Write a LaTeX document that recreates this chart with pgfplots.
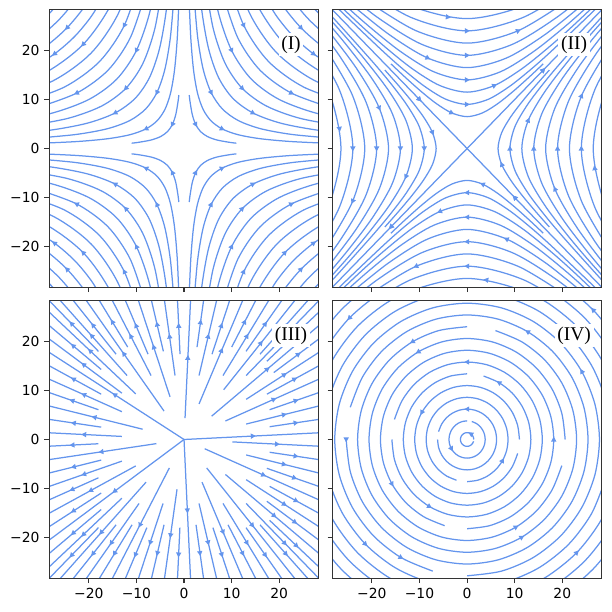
\documentclass[border=0pt]{standalone}
\usepackage{fontspec}
\setmainfont{DejaVu Sans}
\newfontfamily\labfont{Liberation Serif}
\usepackage{pgfplots}
\usepackage{pgfplotstable}
\pgfplotsset{compat=1.18}
\usetikzlibrary{arrows.meta}
\definecolor{cb}{HTML}{6495ED}

% (I): hyperbolas xy=c, first quadrant, mirrored to the others
\pgfplotstableread{
x y
1.1 10.91
1.225 9.798
1.732 6.928
2.449 4.899
3.464 3.464
4.899 2.449
6.928 1.732
9.798 1.225
11 1.091
}\tIa
\pgfplotstableread{
x y
1.0 32
1.414 22.627
2 16
2.828 11.314
4 8
5.657 5.657
8 4
11.314 2.828
16 2
22.627 1.414
32 1
}\tIb
\pgfplotstableread{
x y
2.016 32.249
2.851 22.804
4.031 16.125
5.701 11.402
8.062 8.062
11.402 5.701
16.125 4.031
22.804 2.851
32.249 2.016
}\tIc
\pgfplotstableread{
x y
2.562 40.988
3.623 28.983
5.123 20.494
7.246 14.491
10.247 10.247
14.491 7.246
20.494 5.123
28.983 3.623
40.988 2.562
}\tId
\pgfplotstableread{
x y
4.330 34.641
6.124 24.495
8.660 17.321
12.247 12.247
17.321 8.660
24.495 6.124
34.641 4.330
}\tIe
\pgfplotstableread{
x y
5 40
7.071 28.284
10 20
14.142 14.142
20 10
28.284 7.071
40 5
}\tIf
\pgfplotstableread{
x y
7.984 31.938
11.292 22.583
15.969 15.969
22.583 11.292
31.938 7.984
}\tIg
\pgfplotstableread{
x y
8.874 35.496
12.550 25.100
17.748 17.748
25.100 12.550
35.496 8.874
}\tIh
\pgfplotstableread{
x y
9.747 38.987
13.784 27.568
19.494 19.494
27.568 13.784
38.987 9.747
}\tIi
\pgfplotstableread{
x y
10.607 42.426
15 30
21.213 21.213
30 15
42.426 10.607
}\tIj
\pgfplotstableread{
x y
16.202 32.404
19.270 27.245
22.913 22.913
27.245 19.270
32.404 16.202
}\tIk
\pgfplotstableread{
x y
17.393 34.785
20.686 29.247
24.597 24.597
29.247 20.686
34.785 17.393
}\tIl
\pgfplotstableread{
x y
18.574 37.148
22.092 31.233
26.268 26.268
31.233 22.092
37.148 18.574
}\tIm
\pgfplotstableread{
x y
19.748 39.496
23.488 33.207
27.928 27.928
33.207 23.488
39.496 19.748
}\tIn
\pgfplotstableread{
x y u v
2.449 4.899 0.27 -0.54
8 4 0.54 -0.27
5.701 11.402 0.27 -0.54
14.491 7.246 0.54 -0.27
12.247 12.247 0.42 -0.42
10 20 0.27 -0.54
22.583 11.292 0.54 -0.27
12.55 25.1 0.27 -0.54
21.213 21.213 0.42 -0.42
27.245 19.27 0.49 -0.35
24.597 24.597 0.42 -0.42
}\aI

% (II): upper family y^2-x^2=a^2, turned to the other three sides
\pgfplotstableread{
x y
-16 17.270
-13 14.534
-9.75 11.718
-6.5 9.192
-3.25 7.267
0 6.5
3.25 7.267
6.5 9.192
9.75 11.718
13 14.534
16 17.270
}\tIIb
\pgfplotstableread{
x y
-36 37.108
-27 28.461
-18 20.125
-13.5 16.225
-9 12.728
-4.5 10.062
0 9
4.5 10.062
9 12.728
13.5 16.225
18 20.125
27 28.461
36 37.108
}\tIIc
\pgfplotstableread{
x y
-34.5 36.366
-23 25.715
-17.25 20.732
-11.5 16.263
-5.75 12.857
0 11.5
5.75 12.857
11.5 16.263
17.25 20.732
23 25.715
34.5 36.366
}\tIId
\pgfplotstableread{
x y
-28 31.305
-21 25.239
-14 19.799
-7 15.652
0 14
7 15.652
14 19.799
21 25.239
28 31.305
}\tIIe
\pgfplotstableread{
x y
-24.75 29.747
-16.5 23.335
-8.25 18.448
0 16.5
8.25 18.448
16.5 23.335
24.75 29.747
}\tIIf
\pgfplotstableread{
x y
-28.5 34.254
-19 26.870
-9.5 21.243
0 19
9.5 21.243
19 26.870
28.5 34.254
}\tIIg
\pgfplotstableread{
x y
-21.5 30.406
-10.75 24.038
0 21.5
10.75 24.038
21.5 30.406
}\tIIh
\pgfplotstableread{
x y
-24 33.941
-12 26.833
0 24
12 26.833
24 33.941
}\tIIi
\pgfplotstableread{
x y
-26.5 37.477
-13.25 29.628
0 26.5
13.25 29.628
26.5 37.477
}\tIIj
\pgfplotstableread{
x y u v
-3.25 7.267 0.55 -0.245
0 9 0.6 0
5.75 12.857 0.55 0.245
0 14 0.6 0
-8.25 18.448 0.55 -0.245
0 19 0.6 0
10.75 24.038 0.55 0.245
0 24 0.6 0
-4 26.8 0.59 -0.09
16 16 0.42 0.42
-10 10 0.42 -0.42
}\aII

% (III): rays, start point and end point
\pgfplotstableread{
x y ex ey
0 0 29 1.4
17.98 2.604 29 4.2
13.05 3.15 29 7
17.98 6.076 29 9.8
8.7 3.78 29 12.6
17.4 9.24 29 15.4
13.05 8.19 29 18.2
18.85 13.65 29 21
5.8 4.76 29 23.8
17.4 15.96 29 26.6
13.05 13.05 29 29
15.96 17.4 26.6 29
8.33 10.15 23.8 29
13.02 17.98 21 29
8.19 13.05 18.2 29
10.01 18.85 15.4 29
3.15 7.25 12.6 29
5.88 17.4 9.8 29
3.15 13.05 7 29
2.73 18.85 4.2 29
0.21 4.35 1.4 29
-0.84 17.4 -1.4 29
-1.89 13.05 -4.2 29
-4.34 17.98 -7 29
-2.94 8.7 -9.8 29
-7.56 17.4 -12.6 29
-6.93 13.05 -15.4 29
-11.83 18.85 -18.2 29
-4.2 5.8 -21 29
-14.28 17.4 -23.8 29
-11.97 13.05 -26.6 29
-17.98 17.98 -29 29
-10.15 9.31 -29 26.6
-17.4 14.28 -29 23.8
-13.05 9.45 -29 21
0 0 -29 18.2
-17.4 9.24 -29 15.4
-13.05 5.67 -29 12.6
-17.98 6.076 -29 9.8
-8.7 2.1 -29 7
-17.4 2.52 -29 4.2
-13.05 0.63 -29 1.4
-17.98 -0.868 -29 -1.4
-5.8 -0.84 -29 -4.2
-17.4 -4.2 -29 -7
-13.05 -4.41 -29 -9.8
-17.98 -7.812 -29 -12.6
-10.15 -5.39 -29 -15.4
-17.4 -10.92 -29 -18.2
0 0 -29 -21
-17.4 -14.28 -29 -23.8
-13.05 -11.97 -29 -26.6
-17.98 -17.98 -29 -29
-7.98 -8.7 -26.6 -29
-14.28 -17.4 -23.8 -29
-9.45 -13.05 -21 -29
-10.92 -17.4 -18.2 -29
-3.08 -5.8 -15.4 -29
-7.812 -17.98 -12.6 -29
-4.41 -13.05 -9.8 -29
-4.2 -17.4 -7 -29
-1.47 -10.15 -4.2 -29
-0.868 -17.98 -1.4 -29
0 0 1.4 -29
2.52 -17.4 4.2 -29
3.15 -13.05 7 -29
6.076 -17.98 9.8 -29
3.78 -8.7 12.6 -29
9.24 -17.4 15.4 -29
8.19 -13.05 18.2 -29
13.02 -17.98 21 -29
4.76 -5.8 23.8 -29
15.96 -17.4 26.6 -29
13.05 -13.05 29 -29
17.98 -16.492 29 -26.6
8.7 -7.14 29 -23.8
17.4 -12.6 29 -21
13.05 -8.19 29 -18.2
17.98 -9.548 29 -15.4
4.35 -1.89 29 -12.6
17.4 -5.88 29 -9.8
13.05 -3.15 29 -7
17.98 -2.604 29 -4.2
10.15 -0.49 29 -1.4
}\tIII

% (IV): arrows on the circles
\pgfplotstableread{
x y u v
0.7 1.212 -0.43 0.25
-3.291 -1.9 0.3 -0.52
0 6.2 -0.6 0
7.448 -4.3 0.3 0.52
-9.526 5.5 -0.3 -0.52
6.7 11.604 -0.52 0.3
-7.9 -13.683 0.52 -0.3
18.2 0 0 0.6
-10.3 17.84 -0.52 -0.3
11.5 -19.918 0.52 0.3
-25.4 0 0 -0.6
24.075 13.9 -0.3 0.52
-21.354 -21.354 0.42 -0.42
23.052 -23.052 0.42 0.42
-24.749 24.749 -0.42 -0.42
26.446 26.446 -0.42 0.42
10.3 -17.84 0.52 0.3
12.7 21.996 -0.52 0.3
-11.5 19.918 -0.52 -0.3
-13.9 -24.075 0.52 -0.3
-15.761 -9.1 0.3 -0.52
0 15.8 -0.6 0
}\aIV

\pgfplotsset{
  sp/.style={scale only axis, width=194pt, height=199.8pt, anchor=south west,
    xmin=-28.3, xmax=28.3, ymin=-28.3, ymax=28.3,
    xtick={-20,-10,0,10,20}, ytick={-20,-10,0,10,20},
    xticklabels={−20,−10,0,10,20}, yticklabels={−20,−10,0,10,20},
    tick pos=left, tick align=outside, major tick length=3.5pt,
    axis line style={black!80, line width=0.8pt},
    tick style={black!80, line width=0.8pt},
    ticklabel style={font=\fontsize{10}{12}\selectfont},
    axis on top},
  sl/.style={cb, line width=0.9pt, smooth},
  st/.style={cb, line width=0.9pt},
  ar/.style={cb, line width=0.9pt, -{Triangle[length=3.6pt,width=3.6pt]}},
}
\tikzset{lab/.style={fill=white, inner sep=2pt, font=\labfont\fontsize{14}{16}\selectfont}}

\newcommand\quadI[1]{%
  \addplot[sl] table {#1};
  \addplot[sl] table[x expr=-\thisrow{x}, y=y] {#1};
  \addplot[sl] table[x=x, y expr=-\thisrow{y}] {#1};
  \addplot[sl] table[x expr=-\thisrow{x}, y expr=-\thisrow{y}] {#1};
}
\newcommand\quadII[1]{%
  \addplot[sl] table {#1};
  \addplot[sl] table[x expr=-\thisrow{x}, y expr=-\thisrow{y}] {#1};
  \addplot[sl] table[x=y, y=x] {#1};
  \addplot[sl] table[x expr=-\thisrow{y}, y expr=-\thisrow{x}] {#1};
}
% circle of radius #1 through points 15 degrees apart, with a 15 degree gap
% #2=0.966r #3=0.866r #4=0.707r #5=0.5r #6=0.259r
\newcommand\circE[6]{\addplot[sl] coordinates {
 (#1,0)(#2,#6)(#3,#5)(#4,#4)(#5,#3)(#6,#2)
 (0,#1)(-#6,#2)(-#5,#3)(-#4,#4)(-#3,#5)(-#2,#6)
 (-#1,0)(-#2,-#6)(-#3,-#5)(-#4,-#4)(-#5,-#3)(-#6,-#2)
 (0,-#1)(#6,-#2)(#5,-#3)(#4,-#4)(#3,-#5)(#2,-#6)};}
\newcommand\circN[6]{\addplot[sl] coordinates {
 (0,#1)(-#6,#2)(-#5,#3)(-#4,#4)(-#3,#5)(-#2,#6)
 (-#1,0)(-#2,-#6)(-#3,-#5)(-#4,-#4)(-#5,-#3)(-#6,-#2)
 (0,-#1)(#6,-#2)(#5,-#3)(#4,-#4)(#3,-#5)(#2,-#6)
 (#1,0)(#2,#6)(#3,#5)(#4,#4)(#5,#3)(#6,#2)};}
\newcommand\circW[6]{\addplot[sl] coordinates {
 (-#1,0)(-#2,-#6)(-#3,-#5)(-#4,-#4)(-#5,-#3)(-#6,-#2)
 (0,-#1)(#6,-#2)(#5,-#3)(#4,-#4)(#3,-#5)(#2,-#6)
 (#1,0)(#2,#6)(#3,#5)(#4,#4)(#5,#3)(#6,#2)
 (0,#1)(-#6,#2)(-#5,#3)(-#4,#4)(-#3,#5)(-#2,#6)};}
\newcommand\circS[6]{\addplot[sl] coordinates {
 (0,-#1)(#6,-#2)(#5,-#3)(#4,-#4)(#3,-#5)(#2,-#6)
 (#1,0)(#2,#6)(#3,#5)(#4,#4)(#5,#3)(#6,#2)
 (0,#1)(-#6,#2)(-#5,#3)(-#4,#4)(-#3,#5)(-#2,#6)
 (-#1,0)(-#2,-#6)(-#3,-#5)(-#4,-#4)(-#5,-#3)(-#6,-#2)};}

\begin{document}
\begin{tikzpicture}
\useasboundingbox (0,0) rectangle (440.64pt,440.64pt);

\begin{axis}[sp, at={(35.5pt,233.8pt)}, xticklabels={}]
  \quadI\tIa \quadI\tIb \quadI\tIc \quadI\tId \quadI\tIe
  \quadI\tIf \quadI\tIg \quadI\tIh \quadI\tIi \quadI\tIj
  \quadI\tIk \quadI\tIl \quadI\tIm \quadI\tIn
  \addplot[ar, quiver={u=\thisrow{u}, v=\thisrow{v}}] table {\aI};
  \addplot[ar, quiver={u=-\thisrow{u}, v=\thisrow{v}}] table[x expr=-\thisrow{x}, y=y] {\aI};
  \addplot[ar, quiver={u=\thisrow{u}, v=-\thisrow{v}}] table[x=x, y expr=-\thisrow{y}] {\aI};
  \addplot[ar, quiver={u=-\thisrow{u}, v=-\thisrow{v}}] table[x expr=-\thisrow{x}, y expr=-\thisrow{y}] {\aI};
  \node[lab] at (rel axis cs:0.897,0.874) {(I)};
\end{axis}

\begin{axis}[sp, at={(239.3pt,233.8pt)}, xticklabels={}, yticklabels={}]
  \quadII\tIIb \quadII\tIIc \quadII\tIId \quadII\tIIe
  \quadII\tIIf \quadII\tIIg \quadII\tIIh \quadII\tIIi \quadII\tIIj
  \addplot[st] coordinates {(-30,-30) (30,30)};
  \addplot[st] coordinates {(-30,30) (30,-30)};
  \addplot[ar, quiver={u=\thisrow{u}, v=\thisrow{v}}] table {\aII};
  \addplot[ar, quiver={u=-\thisrow{u}, v=-\thisrow{v}}] table[x expr=-\thisrow{x}, y expr=-\thisrow{y}] {\aII};
  \addplot[ar, quiver={u=\thisrow{v}, v=\thisrow{u}}] table[x=y, y=x] {\aII};
  \addplot[ar, quiver={u=-\thisrow{v}, v=-\thisrow{u}}] table[x expr=-\thisrow{y}, y expr=-\thisrow{x}] {\aII};
  \node[lab] at (rel axis cs:0.897,0.874) {(II)};
\end{axis}

\begin{axis}[sp, at={(35.5pt,24.3pt)}]
  \addplot[st, quiver={u=\thisrow{ex}-\thisrow{x}, v=\thisrow{ey}-\thisrow{y}}] table {\tIII};
  \addplot[ar, quiver={u=0.02*\thisrow{ex}, v=0.02*\thisrow{ey}}]
    table[x expr={(\thisrow{x}+\thisrow{ex})/2}, y expr={(\thisrow{y}+\thisrow{ey})/2}] {\tIII};
  \node[lab] at (rel axis cs:0.897,0.874) {(III)};
\end{axis}

\begin{axis}[sp, at={(239.3pt,24.3pt)}, yticklabels={}]
  \circE{1.4}{1.352}{1.212}{0.99}{0.7}{0.362}
  \circN{3.8}{3.671}{3.291}{2.687}{1.9}{0.983}
  \circW{6.2}{5.989}{5.369}{4.384}{3.1}{1.605}
  \circS{8.6}{8.307}{7.448}{6.081}{4.3}{2.226}
  \circE{11}{10.625}{9.526}{7.778}{5.5}{2.847}
  \circN{13.4}{12.943}{11.604}{9.475}{6.7}{3.468}
  \circW{15.8}{15.262}{13.683}{11.172}{7.9}{4.089}
  \circS{18.2}{17.58}{15.761}{12.869}{9.1}{4.71}
  \circE{20.6}{19.898}{17.84}{14.566}{10.3}{5.331}
  \circN{23}{22.216}{19.918}{16.263}{11.5}{5.952}
  \circW{25.4}{24.534}{21.996}{17.96}{12.7}{6.574}
  \circS{27.8}{26.852}{24.075}{19.657}{13.9}{7.195}
  \circE{30.2}{29.171}{26.153}{21.354}{15.1}{7.816}
  \circN{32.6}{31.489}{28.232}{23.052}{16.3}{8.437}
  \circW{35}{33.807}{30.31}{24.749}{17.5}{9.058}
  \circS{37.4}{36.125}{32.388}{26.446}{18.7}{9.679}
  \addplot[ar, quiver={u=\thisrow{u}, v=\thisrow{v}}] table {\aIV};
  \node[lab] at (rel axis cs:0.897,0.874) {(IV)};
\end{axis}
\end{tikzpicture}
\end{document}
